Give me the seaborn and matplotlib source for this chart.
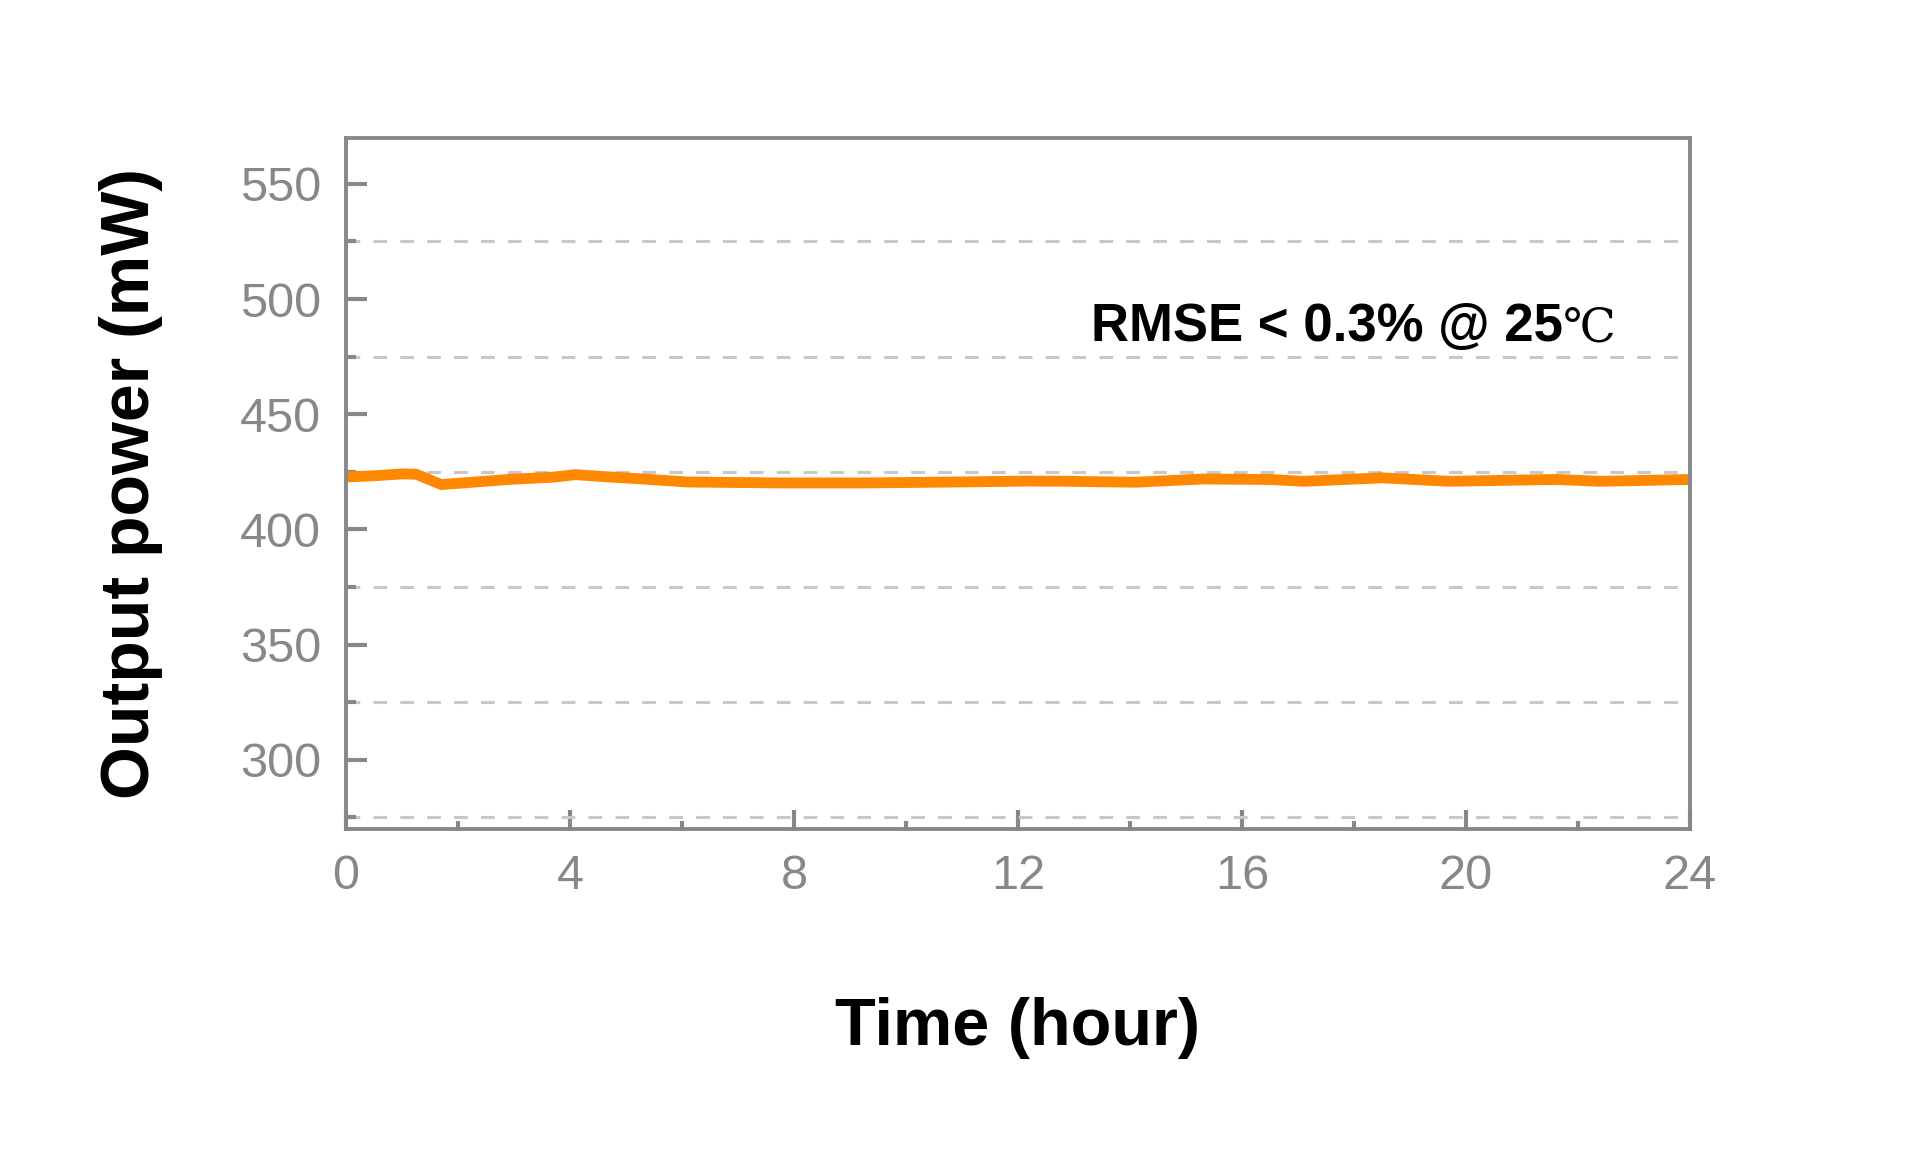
import matplotlib
matplotlib.use("Agg")
import matplotlib.pyplot as plt
from matplotlib.ticker import MultipleLocator
import seaborn as sns
import pandas as pd

# readings taken off the reference curve
hours = [0, 0.5, 1.0, 1.25, 1.5, 1.7, 2.1, 2.9, 3.7, 4.1, 4.5, 5.3, 6.1, 7.7,
         9.3, 10.9, 12.2, 12.9, 14.1, 15.3, 16.5, 17.1, 18.5, 19.7, 20.4,
         21.6, 22.4, 24.0]
power = [422.8, 423.3, 424.1, 424.0, 421.5, 419.5, 420.2, 421.7, 422.7, 423.8,
         423.1, 421.9, 420.6, 420.2, 420.2, 420.6, 421.0, 420.9, 420.5, 421.9,
         421.7, 420.9, 422.4, 420.9, 421.2, 421.7, 420.9, 421.7]

x_ticks = [0, 4, 8, 12, 16, 20, 24]
y_ticks = [300, 350, 400, 450, 500, 550]
note = "RMSE < 0.3% @ 25"

df = pd.DataFrame({"Time (hour)": hours, "Output power (mW)": power})

sns.set_style("white")
plt.rcParams["font.family"] = ["Liberation Sans", "DejaVu Sans"]

gray = "#888888"

fig = plt.figure(figsize=(9.6, 5.76), dpi=200)
ax = fig.add_axes([0.1802, 0.2804, 0.7, 0.6])

sns.lineplot(data=df, x="Time (hour)", y="Output power (mW)", ax=ax,
             color="#ff8800", linewidth=3.9)

ax.set_xlim(0, 24)
ax.set_ylim(270, 570)
ax.set_xticks(x_ticks)
ax.set_yticks(y_ticks)
ax.xaxis.set_minor_locator(MultipleLocator(2))
ax.yaxis.set_minor_locator(MultipleLocator(50, offset=25))

ax.yaxis.grid(True, which="minor", color="#c8c8c8", linewidth=1.1,
              linestyle=(0, (4.5, 4.3)))
ax.xaxis.grid(False)

for s in ax.spines.values():
    s.set_color(gray)
    s.set_linewidth(1.4)

ax.tick_params(axis="both", which="both", direction="in", colors=gray,
               bottom=True, left=True, top=False, right=False, labelsize=17.5)
ax.tick_params(axis="x", which="major", length=6.8, width=1.5, pad=9)
ax.tick_params(axis="x", which="minor", length=3, width=1.5)
ax.tick_params(axis="y", which="major", length=7.5, width=1.5, pad=9)
ax.tick_params(axis="y", which="minor", length=3.6, width=1.5)

ax.set_xlabel("Time (hour)", fontsize=24, fontweight="bold", color="black")
ax.set_ylabel("Output power (mW)", fontsize=24.5, fontweight="bold", color="black")
ax.xaxis.set_label_coords(0.5, -0.243)
ax.yaxis.set_label_coords(-0.136, 0.5)

t = ax.text(13.3, 482, note, fontsize=19, fontweight="bold", color="black",
            ha="left", va="baseline")
ax.annotate("℃", xy=(1, 0), xycoords=t, xytext=(0, 0),
            textcoords="offset points", fontsize=17, color="black",
            family=["DejaVu Serif", "DejaVu Sans"], ha="left", va="bottom")

fig.savefig("out.png", dpi=200)
